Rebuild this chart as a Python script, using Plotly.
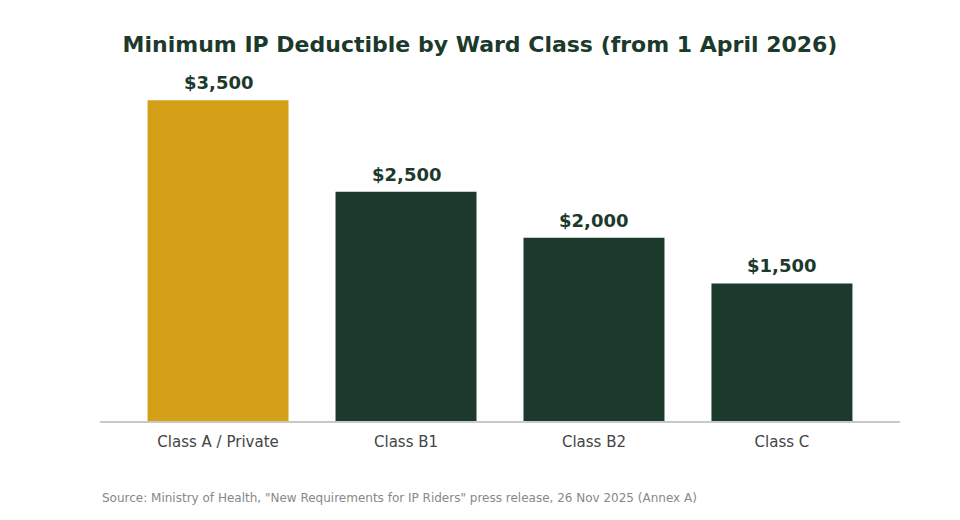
import plotly.graph_objects as go

categories = ["Class A / Private", "Class B1", "Class B2", "Class C"]
deductibles = [3500, 2500, 2000, 1500]
bar_colors = ["#D4A017", "#1B3A2B", "#1B3A2B", "#1B3A2B"]
labels = [f"${v:,}" for v in deductibles]

fig = go.Figure(go.Bar(
    x=categories,
    y=deductibles,
    marker=dict(color=bar_colors, line=dict(width=0)),
    hoverinfo="skip",
))

label_annotations = [
    dict(x=c, y=v, xref="x", yref="y", text=f"<b>{t}</b>", showarrow=False,
         xanchor="center", yanchor="bottom", yshift=5,
         font=dict(family="DejaVu Sans", size=18, color="#1B3A2B"))
    for c, v, t in zip(categories, deductibles, labels)
]

fig.update_layout(
    width=960, height=520,
    margin=dict(l=100, r=60, t=52, b=99),
    paper_bgcolor="white", plot_bgcolor="white",
    bargap=0.25,
    showlegend=False,
    font=dict(family="DejaVu Sans"),
    title=dict(
        text="<b>Minimum IP Deductible by Ward Class (from 1 April 2026)</b>",
        x=0.5, xanchor="center", xref="container",
        y=0.915, yanchor="middle",
        font=dict(family="DejaVu Sans", size=22, color="#1B3A2B"),
    ),
    xaxis=dict(
        range=[-0.628, 3.628],
        showline=True, linecolor="#C8C8C8", linewidth=1.5,
        showgrid=False, zeroline=False, ticks="",
        tickfont=dict(family="DejaVu Sans", size=15, color="#444444"),
        ticklabelstandoff=6,
    ),
    yaxis=dict(visible=False, range=[0, 4025], showgrid=False, zeroline=False),
    annotations=label_annotations + [dict(
        text='Source: Ministry of Health, "New Requirements for IP Riders" press release, 26 Nov 2025 (Annex A)',
        xref="paper", yref="paper", x=0, y=-0.209, xanchor="left", yanchor="middle",
        showarrow=False,
        font=dict(family="DejaVu Sans", size=12, color="#888888"),
    )],
)

fig.write_html("out.html", config={"displayModeBar": False},
               post_script="document.body.style.margin='0';")
